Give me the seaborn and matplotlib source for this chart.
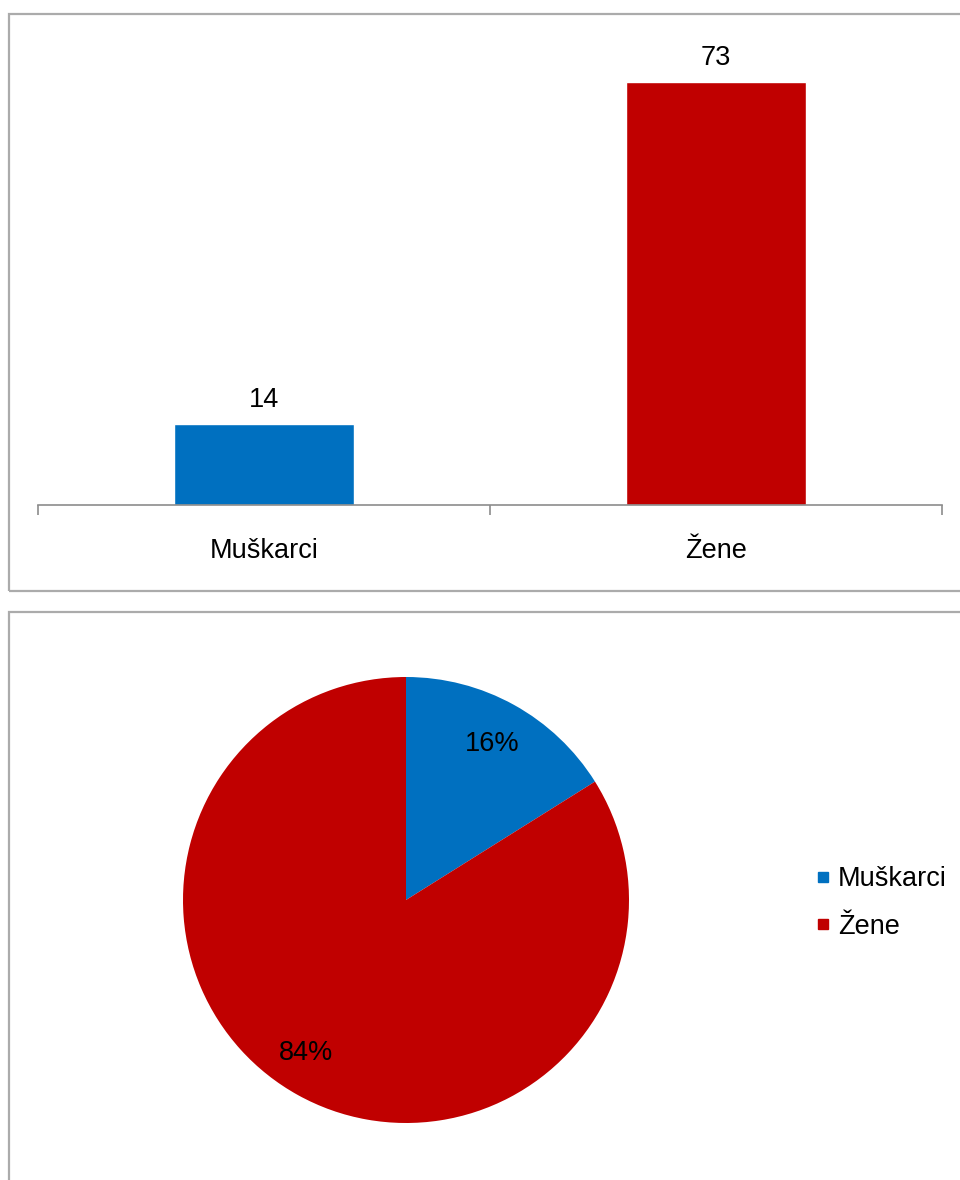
import numpy as np
import pandas as pd
import matplotlib
matplotlib.use("Agg")
import matplotlib.pyplot as plt
from matplotlib.patches import Rectangle
from matplotlib.lines import Line2D
import seaborn as sns

# ------------------------------
# Data
# ------------------------------
categories = ["Muškarci", "Žene"]
counts = [14, 73]
colors = ["#0070C0", "#C00000"]

sns.set_style("white")
plt.rcParams["font.family"] = ["Liberation Sans", "DejaVu Sans"]
plt.rcParams["text.color"] = "black"
plt.rcParams["xtick.labelcolor"] = "black"
FS = 19.5

fig = plt.figure(figsize=(9.6, 11.8), dpi=100)
W, H = 960, 1180

def fx(px):
    return px / W

def fy(py):
    return 1 - py / H

# panel borders (Excel-style chart frames)
border_kw = dict(transform=fig.transFigure, fill=False, edgecolor="#ABABAB",
                 linewidth=1.6, clip_on=False)
fig.patches.append(Rectangle((fx(9), fy(591)), fx(980) - fx(9), fy(14) - fy(591), **border_kw))
fig.patches.append(Rectangle((fx(9), fy(1200)), fx(980) - fx(9), fy(612) - fy(1200), **border_kw))

# ------------------------------
# 1. Bar chart
# ------------------------------
ax1 = fig.add_axes([fx(38), fy(505), fx(942) - fx(38), fy(40) - fy(505)])
df = pd.DataFrame({"pol": categories, "broj": counts})
sns.barplot(data=df, x="pol", y="broj", hue="pol", palette=colors,
            width=0.4, saturation=1, legend=False, ax=ax1)
for cont in ax1.containers:
    ax1.bar_label(cont, padding=7.5, fontsize=FS, color="black")
ax1.set_xlim(-0.5, 1.5)
ax1.set_ylim(0, 80.2)
ax1.set_xlabel("")
ax1.set_ylabel("")
ax1.set_yticks([])
ax1.set_xticks([-0.5, 0.5, 1.5])
ax1.set_xticklabels([])
ax1.set_xticks([0, 1], minor=True)
ax1.set_xticklabels(categories, minor=True, fontsize=FS, color="black")
ax1.tick_params(axis="x", which="major", direction="out", length=7,
                width=1.2, color="#8C8C8C", bottom=True)
ax1.tick_params(axis="x", which="minor", length=0, pad=24)
for side in ["top", "right", "left"]:
    ax1.spines[side].set_visible(False)
ax1.spines["bottom"].set_color("#8C8C8C")
ax1.spines["bottom"].set_linewidth(1.2)
ax1.patch.set_alpha(0)

# ------------------------------
# 2. Pie chart
# ------------------------------
ax2 = fig.add_axes([fx(183), fy(1123), fx(629) - fx(183), fy(677) - fy(1123)])
wedges, texts, autotexts = ax2.pie(counts, colors=colors, startangle=90,
                                   counterclock=False, autopct="%1.0f%%",
                                   pctdistance=0.8,
                                   wedgeprops={"linewidth": 0},
                                   textprops={"fontsize": FS, "color": "black"})
# Excel places the big slice label further round the circle
ang = np.deg2rad(-123)
autotexts[1].set_position((0.82 * np.cos(ang), 0.82 * np.sin(ang)))
ax2.set_xlim(-1, 1)
ax2.set_ylim(-1, 1)
ax2.set_aspect("equal")

handles = [Line2D([0], [0], marker="s", linestyle="none", markersize=7,
                  markerfacecolor=c, markeredgecolor=c) for c in colors]
fig.legend(handles, categories, loc="center left",
           bbox_to_anchor=(fx(815), fy(903)), frameon=False, fontsize=FS,
           handlelength=0.6, handletextpad=0.25, labelspacing=0.78,
           borderpad=0, borderaxespad=0)

plt.savefig("out.png", dpi=100)
